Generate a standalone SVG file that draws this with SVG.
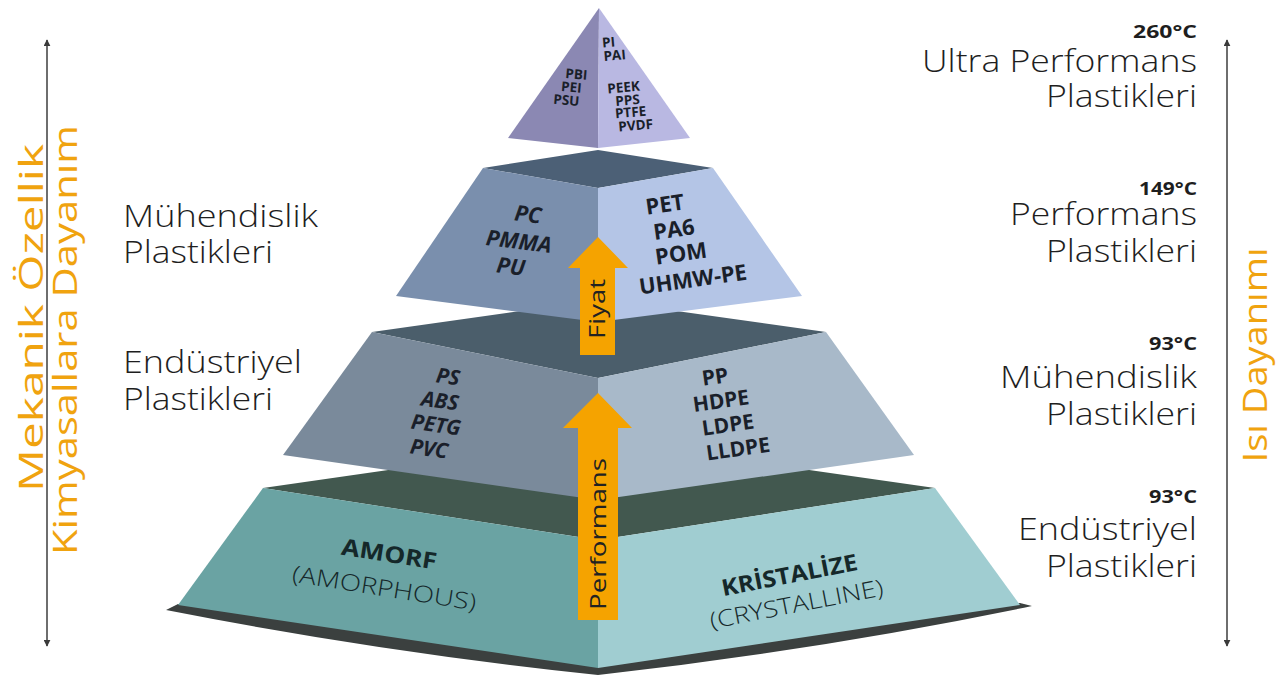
<svg xmlns="http://www.w3.org/2000/svg" width="1284" height="675" viewBox="0 0 1284 675">
<style>
.lbl{font-family:"Open Sans","Liberation Sans",sans-serif;font-size:31px;font-weight:300;fill:#1e1e1e}
.tmp{font-family:"Open Sans","Liberation Sans",sans-serif;font-size:17px;font-weight:700;fill:#1e1e1e}
.ax{font-family:"Open Sans","Liberation Sans",sans-serif;font-size:33px;fill:#f0a30f}
.pl{font-family:"Open Sans","Liberation Sans",sans-serif;font-weight:700;fill:#1a1f2a;text-anchor:middle}
.it{font-style:italic}
.arrt{font-family:"Open Sans","Liberation Sans",sans-serif;font-size:22px;fill:#222;text-anchor:middle}
.base{font-family:"Open Sans","Liberation Sans",sans-serif;font-size:23px;fill:#15282a;text-anchor:middle}
.axis{stroke:#4a4a4a;stroke-width:1.6;fill:none}
.orange{fill:#f5a300}
</style>
<defs>
<marker id="tri" viewBox="0 0 10 10" refX="9" refY="5" markerWidth="7" markerHeight="7" orient="auto-start-reverse" markerUnits="userSpaceOnUse">
<path d="M0,0 L10,5 L0,10 Z" fill="#3a3a3a"/>
</marker>
</defs>
<rect width="1284" height="675" fill="#ffffff"/>

<g id="tier-base">
<path d="M166,610 L178,604 L598,666 L1020,603 L1032,606 Q820,650 598,675 Q380,652 166,610 Z" fill="#3b403f"/>
<polygon points="263,488 598,440 935,488 598,540" fill="#42584f"/>
<polygon points="263,488 598,540 598,668 178,605" fill="#6aa3a3"/>
<polygon points="935,488 598,540 598,668 1020,605" fill="#a0cdd1"/>
<text class="base" font-weight="700" x="388" y="562" transform="rotate(9 388 562)" textLength="96" lengthAdjust="spacingAndGlyphs">AMORF</text>
<text class="base" font-weight="300" x="383" y="596" transform="rotate(9 383 596)" textLength="186" lengthAdjust="spacingAndGlyphs">(AMORPHOUS)</text>
<text class="base" font-weight="700" x="791" y="583" transform="rotate(-11 791 583)" textLength="138" lengthAdjust="spacingAndGlyphs">KRİSTALİZE</text>
<text class="base" font-weight="300" x="798" y="612" transform="rotate(-11 798 612)" textLength="176" lengthAdjust="spacingAndGlyphs">(CRYSTALLINE)</text>
</g>

<g id="tier-industrial">
<polygon points="372,332 598,300 826,332 598,378" fill="#4b5e6b"/>
<polygon points="372,332 598,378 598,500 283,455" fill="#7a8a9b"/>
<polygon points="826,332 598,378 598,500 914,455" fill="#a8b9c9"/>
<g font-size="21">
<text class="pl it" x="447" y="384" transform="rotate(8 447 384)">PS</text>
<text class="pl it" x="439" y="408" transform="rotate(8 439 408)">ABS</text>
<text class="pl it" x="435" y="432" transform="rotate(8 435 432)">PETG</text>
<text class="pl it" x="428" y="456" transform="rotate(8 428 456)">PVC</text>
<text class="pl" x="716" y="384" transform="rotate(-8 716 384)">PP</text>
<text class="pl" x="722" y="408" transform="rotate(-8 722 408)">HDPE</text>
<text class="pl" x="729" y="432" transform="rotate(-8 729 432)">LDPE</text>
<text class="pl" x="739" y="456" transform="rotate(-8 739 456)">LLDPE</text>
</g>
</g>

<g id="tier-engineering">
<polygon points="483,168 598,150 713,168 598,188" fill="#4c6076"/>
<polygon points="483,168 598,188 598,322 396,296" fill="#7a8fad"/>
<polygon points="713,168 598,188 598,322 802,296" fill="#b4c5e6"/>
<g font-size="22">
<text class="pl it" x="527" y="222" transform="rotate(7 527 222)">PC</text>
<text class="pl it" x="518" y="249" transform="rotate(7 518 249)">PMMA</text>
<text class="pl it" x="510" y="274" transform="rotate(7 510 274)">PU</text>
<text class="pl" x="666" y="212" transform="rotate(-8 666 212)">PET</text>
<text class="pl" x="675" y="237" transform="rotate(-8 675 237)">PA6</text>
<text class="pl" x="682" y="261" transform="rotate(-8 682 261)">POM</text>
<text class="pl" x="694" y="287" transform="rotate(-8 694 287)">UHMW-PE</text>
</g>
</g>

<g id="tier-ultra">
<polygon points="599,8 508,138 598,148" fill="#8b88b3"/>
<polygon points="599,8 690,138 598,148" fill="#b9b8e2"/>
<g font-size="13.5">
<text class="pl" x="576" y="79" transform="rotate(5 576 79)">PBI</text>
<text class="pl" x="571" y="92" transform="rotate(5 571 92)">PEI</text>
<text class="pl" x="566" y="105" transform="rotate(5 566 105)">PSU</text>
<text class="pl" x="609" y="47" transform="rotate(-5 609 47)">PI</text>
<text class="pl" x="615" y="60" transform="rotate(-5 615 60)">PAI</text>
<text class="pl" x="624" y="92" transform="rotate(-5 624 92)">PEEK</text>
<text class="pl" x="628" y="105" transform="rotate(-5 628 105)">PPS</text>
<text class="pl" x="631" y="117" transform="rotate(-5 631 117)">PTFE</text>
<text class="pl" x="636" y="130" transform="rotate(-5 636 130)">PVDF</text>
</g>
</g>

<g id="connectors">
<polygon class="orange" points="580,355 580,268 568,268 598,237 628,268 615,268 615,355"/>
<polygon class="orange" points="578,620 578,428 563,428 598,393 632,428 618,428 618,620"/>
<line class="axis" x1="47" y1="40" x2="47" y2="646" marker-start="url(#tri)" marker-end="url(#tri)"/>
<line class="axis" x1="1227" y1="40" x2="1227" y2="646" marker-start="url(#tri)" marker-end="url(#tri)"/>
</g>

<g id="arrow-labels">
<text class="arrt" x="605" y="309" transform="rotate(-90 605 309)" textLength="60" lengthAdjust="spacingAndGlyphs">Fiyat</text>
<text class="arrt" x="606" y="534" transform="rotate(-90 606 534)" textLength="152" lengthAdjust="spacingAndGlyphs">Performans</text>
</g>

<g id="axis-left">
<text class="ax" x="0" y="0" text-anchor="middle" transform="translate(43 318) rotate(-90)" textLength="348" lengthAdjust="spacingAndGlyphs">Mekanik Özellik</text>
<text class="ax" x="0" y="0" text-anchor="middle" transform="translate(77 340) rotate(-90)" textLength="430" lengthAdjust="spacingAndGlyphs">Kimyasallara Dayanım</text>
</g>
<g id="axis-right">
<text class="ax" x="0" y="0" text-anchor="middle" transform="translate(1267 355) rotate(-90)" textLength="215" lengthAdjust="spacingAndGlyphs">Isı Dayanımı</text>
</g>

<g id="labels-left">
<text class="lbl" x="123" y="227" textLength="195" lengthAdjust="spacingAndGlyphs">Mühendislik</text>
<text class="lbl" x="123" y="263" textLength="150" lengthAdjust="spacingAndGlyphs">Plastikleri</text>
<text class="lbl" x="123" y="373" textLength="179" lengthAdjust="spacingAndGlyphs">Endüstriyel</text>
<text class="lbl" x="123" y="410" textLength="150" lengthAdjust="spacingAndGlyphs">Plastikleri</text>
</g>

<g id="labels-right" text-anchor="end">
<text class="tmp" x="1197" y="38" textLength="64" lengthAdjust="spacingAndGlyphs">260°C</text>
<text class="lbl" x="1197" y="72" textLength="275" lengthAdjust="spacingAndGlyphs">Ultra Performans</text>
<text class="lbl" x="1197" y="107" textLength="151" lengthAdjust="spacingAndGlyphs">Plastikleri</text>
<text class="tmp" x="1197" y="195" textLength="58" lengthAdjust="spacingAndGlyphs">149°C</text>
<text class="lbl" x="1197" y="225" textLength="187" lengthAdjust="spacingAndGlyphs">Performans</text>
<text class="lbl" x="1197" y="262" textLength="151" lengthAdjust="spacingAndGlyphs">Plastikleri</text>
<text class="tmp" x="1197" y="350" textLength="48" lengthAdjust="spacingAndGlyphs">93°C</text>
<text class="lbl" x="1197" y="388" textLength="197" lengthAdjust="spacingAndGlyphs">Mühendislik</text>
<text class="lbl" x="1197" y="425" textLength="151" lengthAdjust="spacingAndGlyphs">Plastikleri</text>
<text class="tmp" x="1197" y="503" textLength="48" lengthAdjust="spacingAndGlyphs">93°C</text>
<text class="lbl" x="1197" y="540" textLength="179" lengthAdjust="spacingAndGlyphs">Endüstriyel</text>
<text class="lbl" x="1197" y="577" textLength="151" lengthAdjust="spacingAndGlyphs">Plastikleri</text>
</g>
</svg>
